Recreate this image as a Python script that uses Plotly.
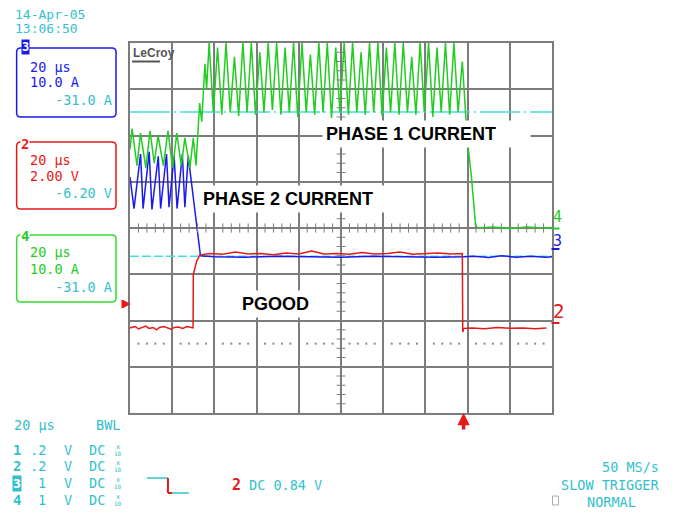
import plotly.graph_objects as go

# Scope capture: 20 us/div over 10 divisions, vertical in screen divisions (-4..4)

# Ch4 - phase 1 current (time us, divisions)
PHASE1 = [
    (0, 1.7), (1.0, 2.15), (3.3, 1.35), (5.0, 2.05), (7.5, 1.3), (9.5, 2.1),
    (11.5, 1.4), (13.3, 2.0), (15.8, 1.35), (18.0, 2.1), (20.2, 1.3), (22.2, 2.05),
    (24.3, 1.35), (26.0, 1.95), (28.4, 1.3), (30.0, 1.95), (31.3, 1.35), (33.0, 2.7),
    (34.0, 2.3), (35.5, 3.55), (36.3, 3.0), (37.5, 4.0),
    (39.5, 2.5), (41.5, 3.9), (43.5, 2.45), (45.5, 4.0), (47.5, 2.5), (49.5, 3.7),
    (51.5, 2.42), (53.5, 4.0), (55.5, 2.5), (57.5, 4.0), (59.5, 2.45), (61.5, 3.8),
    (63.5, 2.5), (65.5, 4.0), (67.5, 2.55), (69.5, 4.0), (71.5, 2.45), (73.5, 3.9),
    (75.5, 2.5), (77.5, 4.0), (79.5, 2.4), (81.5, 4.0), (83.5, 2.5), (85.5, 3.75),
    (87.5, 2.45), (89.5, 4.0), (91.5, 2.5), (93.5, 4.0), (95.5, 2.38), (97.5, 3.9),
    (99.5, 2.5), (101.5, 4.0), (103.5, 2.45), (105.5, 4.0), (107.5, 2.5), (109.5, 3.8),
    (111.5, 2.45), (113.5, 4.0), (115.5, 2.5), (117.5, 4.0), (119.5, 2.42), (121.5, 3.9),
    (123.5, 2.5), (125.5, 4.0), (127.5, 2.45), (129.5, 4.0), (131.5, 2.5), (133.5, 3.7),
    (135.5, 2.45), (137.5, 4.0), (139.5, 2.5), (141.5, 4.0), (143.5, 2.4), (145.5, 3.9),
    (147.5, 2.5), (149.5, 4.0), (151.5, 2.45), (153.5, 4.0), (155.5, 2.5), (157.5, 3.6),
    (159.1, 2.45), (160.2, 1.78), (161.8, 1.12), (162.5, 0.69), (163.8, 0.04),
    (165, 0.0), (172, 0.02), (180, -0.01), (188, 0.02), (196, 0.0), (200, 0.01),
]

# Ch3 - phase 2 current
PHASE2 = [
    (0, 1.1), (1.9, 0.42), (5.0, 1.6), (6.2, 0.42), (9.1, 1.65), (10.4, 0.4),
    (13.4, 1.55), (14.5, 0.42), (17.3, 1.6), (18.5, 0.45), (20.9, 1.55), (22.3, 0.42),
    (24.8, 1.6), (26.0, 0.45), (27.6, 1.55), (30.5, 0.5), (33.4, -0.6),
    (40, -0.62), (55, -0.63), (70, -0.61), (85, -0.62), (100, -0.63), (115, -0.61),
    (130, -0.62), (145, -0.63), (158, -0.62), (163, -0.61), (170, -0.64), (176, -0.6),
    (183, -0.63), (190, -0.61), (197, -0.63), (200, -0.62),
]

# Ch2 - PGOOD
PGOOD = [
    (0, -2.16), (2.5, -2.13), (4, -2.18), (6, -2.15), (7.5, -2.12), (9, -2.17),
    (11, -2.15), (12.5, -2.2), (14, -2.15), (16, -2.13), (18, -2.16), (19.5, -2.19),
    (21, -2.15), (23, -2.14), (25, -2.17), (27, -2.13), (29.9, -2.16),
    (30.0, -1.0), (31.6, -0.72), (33.1, -0.58), (38, -0.55), (44, -0.57), (50, -0.52),
    (56, -0.56), (62, -0.55), (68, -0.58), (74, -0.54), (80, -0.56), (86, -0.5),
    (92, -0.56), (98, -0.55), (104, -0.57), (110, -0.53), (116, -0.56), (122, -0.55),
    (128, -0.52), (134, -0.57), (140, -0.55), (146, -0.54), (152, -0.56), (157.5, -0.55),
    (157.7, -2.25), (158.2, -2.17), (162, -2.16), (168, -2.18), (174, -2.15),
    (180, -2.17), (186, -2.16), (192, -2.18), (197.4, -2.16),
]

REF_LEVELS = [2.51, -0.61]      # cyan reference lines
REF_DASH = ["40px,4px,2px,4px", "9px,3px"]
DOT_LEVEL = -2.5                # dotted graticule row
TRIGGER_T = 158.1

CYAN = "#33bfcc"
GREEN = "#22cc22"
BLUE = "#1a1aee"
RED = "#e81818"
GRID = "#7c7c7c"
MONO = "DejaVu Sans Mono"

# page body has an 8px margin, so the figure is shifted; coords below are window pixels
OFF = 8
X0, X1, Y0, Y1 = 130, 552.5, 43, 413     # graticule in window pixels
W, H = 679 - OFF, 517 - OFF
L, T = X0 - OFF, Y0 - OFF
R, B = W - (X1 - OFF), H - (Y1 - OFF)
PW, PH = X1 - X0, Y1 - Y0


def px(x):
    return (x - X0) / PW


def py(y):
    return (Y1 - y) / PH


fig = go.Figure()

for lvl, dash in zip(REF_LEVELS, REF_DASH):
    fig.add_trace(go.Scatter(x=[0, 200], y=[lvl, lvl], mode="lines",
                             line=dict(color="#44dde0", width=1.5, dash=dash),
                             hoverinfo="skip"))

dots = [t for t in range(4, 200, 4) if t % 20]
fig.add_trace(go.Scatter(x=dots, y=[DOT_LEVEL] * len(dots), mode="markers",
                         marker=dict(color="#8a8a8a", size=2, symbol="square"),
                         hoverinfo="skip"))

for data, color, name in [(PHASE2, BLUE, "Phase 2"), (PHASE1, GREEN, "Phase 1"),
                          (PGOOD, RED, "PGOOD")]:
    fig.add_trace(go.Scatter(x=[p[0] for p in data], y=[p[1] for p in data],
                             mode="lines", name=name,
                             line=dict(color=color, width=1.5)))

shapes = []
# minor ticks on the center cross
for i in range(1, 50):
    t = i * 4
    if t % 20:
        shapes.append(dict(type="line", xref="x", yref="y", x0=t, x1=t,
                           y0=-0.1, y1=0.1, line=dict(color=GRID, width=1)))
for i in range(-20, 21):
    v = i * 0.2
    if i % 5:
        shapes.append(dict(type="line", xref="x", yref="y", x0=97.9, x1=102.1,
                           y0=v, y1=v, line=dict(color=GRID, width=1)))


def rbox(x0, y0, x1, y1, color, r=4):
    pts = (f"M {px(x0 + r)},{py(y0)} L {px(x1 - r)},{py(y0)} "
           f"Q {px(x1)},{py(y0)} {px(x1)},{py(y0 + r)} L {px(x1)},{py(y1 - r)} "
           f"Q {px(x1)},{py(y1)} {px(x1 - r)},{py(y1)} L {px(x0 + r)},{py(y1)} "
           f"Q {px(x0)},{py(y1)} {px(x0)},{py(y1 - r)} L {px(x0)},{py(y0 + r)} "
           f"Q {px(x0)},{py(y0)} {px(x0 + r)},{py(y0)} Z")
    return dict(type="path", xref="paper", yref="paper", path=pts,
                line=dict(color=color, width=1.5), layer="above")


def pline(x0, y0, x1, y1, color, width=1.5):
    return dict(type="line", xref="paper", yref="paper", x0=px(x0), x1=px(x1),
                y0=py(y0), y1=py(y1), line=dict(color=color, width=width))


shapes += [
    rbox(16.5, 48, 116, 117, BLUE),
    rbox(16.5, 142, 116, 209, RED),
    rbox(16.5, 235, 116, 302, "#33dd33"),
    pline(147, 478, 168, 478, CYAN),
    pline(168, 478, 168, 493, RED, 2),
    pline(168, 493, 172, 493, RED, 2),
    pline(172, 493, 189, 493, CYAN),
    pline(132, 61.5, 160, 61.5, "#555555", 2),
    pline(552, 228.5, 560, 228.5, GREEN, 2),
    pline(552, 249, 560, 249, BLUE, 2),
    pline(552, 323, 560, 323, RED, 2),
    dict(type="rect", xref="paper", yref="paper", x0=px(553), x1=px(559),
         y0=py(505), y1=py(496), line=dict(color="#aaaaaa", width=1)),
    dict(type="path", xref="paper", yref="paper",
         path=f"M {px(122)},{py(300)} L {px(130)},{py(304)} L {px(122)},{py(308)} Z",
         fillcolor=RED, line=dict(color=RED, width=1)),
]

ann = []


def txt(x, y, s, color=CYAN, size=13.5, anchor="left", bold=False, bg=None,
        family=MONO):
    ann.append(dict(xref="paper", yref="paper", x=px(x), y=py(y),
                    xanchor=anchor, yanchor="middle", showarrow=False,
                    text=f"<b>{s}</b>" if bold else s, borderpad=0,
                    bgcolor=bg, font=dict(family=family, size=size, color=color)))


txt(14, 14.5, "14-Apr-05", size=13)
txt(14, 28.5, "13:06:50", size=13)

txt(21, 47, "3", color="white", size=12, bold=True, bg=BLUE)
txt(29, 66.5, "20 μs", color=BLUE)
txt(29, 81.5, "10.0 A", color=BLUE)
txt(113, 100.5, "-31.0 A", anchor="right")

txt(20, 144, "2", color=RED, size=14, bold=True, bg="white")
txt(29, 159.5, "20 μs", color=RED)
txt(29, 175.5, "2.00 V", color=RED)
txt(113, 193.5, "-6.20 V", anchor="right")

txt(20, 236, "4", color="#22cc22", size=14, bold=True, bg="white")
txt(29, 251.5, "20 μs", color="#22cc22")
txt(29, 268.5, "10.0 A", color="#22cc22")
txt(113, 286.5, "-31.0 A", anchor="right")

txt(13, 425, "20 μs")
txt(121, 425, "BWL", anchor="right")
for row, (ch, volts) in enumerate([("1", ".2"), ("2", ".2"), ("3", "1"), ("4", "1")]):
    yy = 449.5 + row * 16.8
    if ch == "3":
        txt(12, yy, ch, color="white", size=13, bold=True, bg=CYAN)
    else:
        txt(12, yy, ch, size=14, bold=True)
    txt(47, yy, volts, anchor="right")
    txt(63, yy, "V")
    txt(88, yy, "DC")
    txt(117.5, yy - 3, "x", size=7, anchor="center")
    txt(117.5, yy + 3.5, "10", size=6, anchor="center")

txt(231, 485, "2", color=RED, size=15, bold=True)
txt(248, 485, "DC 0.84 V")
txt(661, 467, "50 MS/s", anchor="right")
txt(661, 485, "SLOW TRIGGER", anchor="right")
txt(587, 502, "NORMAL")

txt(553, 217, "4", color=GREEN, size=15)
txt(553, 241, "3", color=BLUE, size=15)
txt(552, 311, "2", color=RED, size=19)

txt(132, 53, "LeCroy", color="#555555", size=12, bold=True, family="Liberation Sans")

# on-screen captions with white backing
for x0, y0, w, s in [(322, 120, 201, "PHASE 1 CURRENT"), (199, 185, 181, "PHASE 2 CURRENT"),
                     (238, 290, 74, "PGOOD")]:
    ann.append(dict(xref="paper", yref="paper", x=px(x0), y=py(y0), xanchor="left",
                    yanchor="top", showarrow=False, text=f"<b>{s}</b>", width=w,
                    height=20, align="left", valign="middle", borderpad=3,
                    bgcolor="white",
                    font=dict(family="Liberation Sans", size=18, color="black")))

ann.append(dict(xref="x", yref="paper", x=TRIGGER_T, y=py(413), ax=0, ay=18,
                showarrow=True, text="", arrowcolor=RED, arrowwidth=3.5,
                arrowhead=2, arrowsize=0.7))

fig.update_layout(
    width=W, height=H,
    margin=dict(l=L, r=R, t=T, b=B, pad=0),
    paper_bgcolor="white", plot_bgcolor="white",
    showlegend=False,
    shapes=shapes, annotations=ann,
    xaxis=dict(range=[0, 200], dtick=20, showgrid=True, gridcolor=GRID, gridwidth=1.5,
               showticklabels=False, zeroline=False, showline=True, mirror=True,
               linecolor=GRID, linewidth=2, ticks=""),
    yaxis=dict(range=[-4, 4], dtick=1, showgrid=True, gridcolor=GRID, gridwidth=1.5,
               showticklabels=False, zeroline=False, showline=True, mirror=True,
               linecolor=GRID, linewidth=2, ticks=""),
)

fig.write_html("out.html")
